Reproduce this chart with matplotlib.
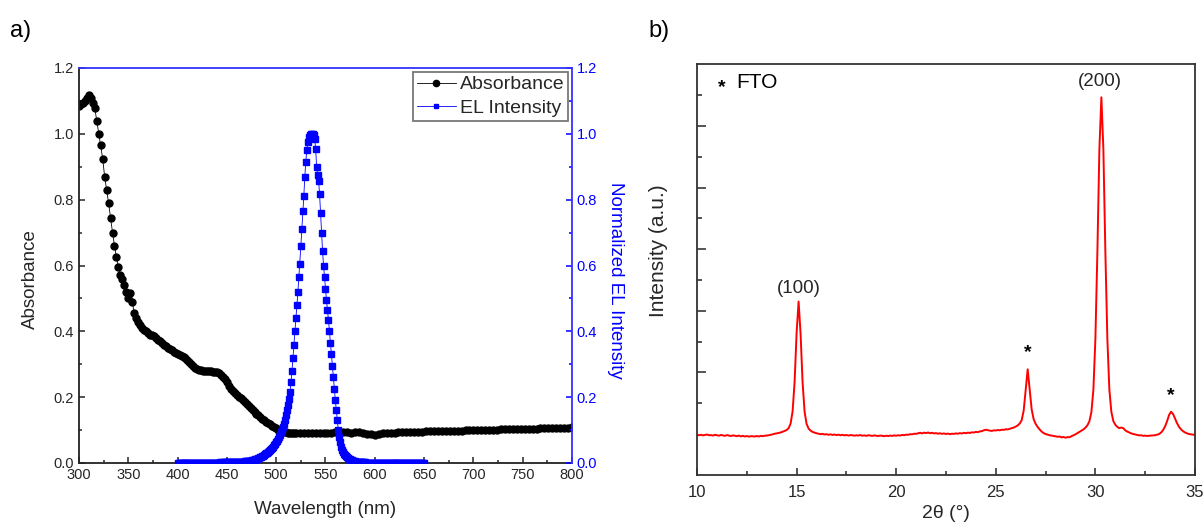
import numpy as np
import matplotlib
matplotlib.use("Agg")
import matplotlib.pyplot as plt
from matplotlib.ticker import MultipleLocator, FixedLocator, FormatStrFormatter, NullFormatter

plt.rcParams['font.family'] = ['Liberation Sans', 'DejaVu Sans']

# ---------------- Panel a) data ----------------
abs_wl_fine = np.arange(300, 521, 2)        # 300..520 step 2
abs_fine = [
    1.085, 1.090, 1.095, 1.100, 1.110, 1.118, 1.110, 1.095, 1.078, 1.040,
    1.000, 0.965, 0.925, 0.870, 0.830, 0.790, 0.745, 0.700, 0.660, 0.625,
    0.595, 0.570, 0.560, 0.540, 0.520, 0.500, 0.515, 0.490, 0.455, 0.440,
    0.427, 0.420, 0.410, 0.405, 0.400, 0.395, 0.390, 0.388, 0.385, 0.380,
    0.375, 0.370, 0.365, 0.360, 0.355, 0.350, 0.345, 0.342, 0.338, 0.335,
    0.332, 0.329, 0.326, 0.322, 0.318, 0.314, 0.308, 0.300, 0.295, 0.290,
    0.285, 0.283, 0.282, 0.281, 0.281, 0.280, 0.279, 0.278, 0.277, 0.276,
    0.275, 0.272, 0.268, 0.262, 0.254, 0.245, 0.235, 0.226, 0.220, 0.213,
    0.207, 0.202, 0.197, 0.192, 0.186, 0.180, 0.174, 0.168, 0.162, 0.156,
    0.150, 0.145, 0.140, 0.135, 0.130, 0.125, 0.121, 0.117, 0.113, 0.109,
    0.105, 0.101, 0.098, 0.096, 0.094, 0.093, 0.092, 0.092, 0.092, 0.092,
    0.092,
]
abs_wl_coarse = np.arange(524, 801, 4)      # 524..800 step 4
abs_coarse = [
    0.092, 0.091, 0.092, 0.091, 0.092, 0.092, 0.091, 0.092, 0.092, 0.093,
    0.092, 0.093, 0.093, 0.092, 0.093, 0.094, 0.092, 0.089, 0.087, 0.086,
    0.088, 0.090, 0.091, 0.092, 0.092, 0.093, 0.093, 0.094, 0.094, 0.094,
    0.095, 0.095, 0.096, 0.096, 0.096, 0.096, 0.097, 0.097, 0.097, 0.098,
    0.098, 0.098, 0.099, 0.099, 0.099, 0.100, 0.100, 0.100, 0.101, 0.101,
    0.101, 0.102, 0.102, 0.102, 0.102, 0.103, 0.103, 0.103, 0.104, 0.104,
    0.104, 0.105, 0.105, 0.105, 0.106, 0.106, 0.106, 0.107, 0.107, 0.108,
]

el_wl = np.arange(400, 651, 1)              # 400..650 step 1
el_int = [
    # 400-459
    0.001, 0.001, 0.000, 0.001, 0.000, 0.001, 0.001, 0.000, 0.001, 0.000,
    0.001, 0.000, 0.001, 0.001, 0.000, 0.001, 0.000, 0.001, 0.001, 0.000,
    0.001, 0.001, 0.000, 0.001, 0.001, 0.001, 0.000, 0.001, 0.001, 0.001,
    0.001, 0.001, 0.001, 0.001, 0.001, 0.001, 0.001, 0.001, 0.001, 0.001,
    0.001, 0.001, 0.001, 0.002, 0.001, 0.002, 0.001, 0.002, 0.002, 0.002,
    0.002, 0.002, 0.002, 0.002, 0.002, 0.002, 0.002, 0.002, 0.002, 0.002,
    # 460-469
    0.002, 0.002, 0.002, 0.003, 0.003, 0.003, 0.004, 0.004, 0.005, 0.005,
    # 470-479
    0.005, 0.006, 0.006, 0.007, 0.007, 0.008, 0.009, 0.009, 0.010, 0.011,
    # 480-489
    0.012, 0.013, 0.014, 0.015, 0.017, 0.019, 0.020, 0.022, 0.024, 0.026,
    # 490-499
    0.029, 0.031, 0.034, 0.037, 0.040, 0.043, 0.046, 0.050, 0.054, 0.058,
    # 500-509
    0.063, 0.068, 0.074, 0.080, 0.086, 0.093, 0.100, 0.110, 0.120, 0.132,
    # 510-519
    0.145, 0.160, 0.176, 0.194, 0.215, 0.245, 0.280, 0.320, 0.360, 0.400,
    # 520-529
    0.440, 0.480, 0.520, 0.565, 0.605, 0.660, 0.710, 0.765, 0.810, 0.870,
    # 530-539
    0.915, 0.950, 0.975, 0.990, 0.995, 1.000, 1.000, 1.000, 0.995, 0.985,
    # 540-549
    0.955, 0.900, 0.875, 0.857, 0.816, 0.760, 0.700, 0.645, 0.600, 0.565,
    # 550-559
    0.530, 0.495, 0.465, 0.435, 0.400, 0.365, 0.330, 0.295, 0.260, 0.225,
    # 560-569
    0.190, 0.160, 0.130, 0.100, 0.080, 0.064, 0.050, 0.041, 0.034, 0.028,
    # 570-579
    0.023, 0.020, 0.017, 0.015, 0.013, 0.011, 0.010, 0.008, 0.007, 0.006,
    # 580-589
    0.005, 0.004, 0.004, 0.003, 0.003, 0.003, 0.002, 0.002, 0.002, 0.002,
    # 590-599
    0.002, 0.001, 0.001, 0.001, 0.001, 0.001, 0.001, 0.001, 0.001, 0.001,
    # 600-650
    0.001, 0.001, 0.000, 0.001, 0.001, 0.000, 0.001, 0.001, 0.001, 0.000,
    0.001, 0.001, 0.000, 0.001, 0.000, 0.001, 0.001, 0.000, 0.001, 0.001,
    0.000, 0.001, 0.001, 0.000, 0.001, 0.000, 0.001, 0.001, 0.000, 0.001,
    0.001, 0.000, 0.001, 0.001, 0.000, 0.001, 0.000, 0.001, 0.001, 0.000,
    0.001, 0.001, 0.000, 0.001, 0.000, 0.001, 0.001, 0.000, 0.001, 0.001,
    0.000,
]

# ---------------- Panel b) data ----------------
xrd_2theta = np.round(np.arange(10.0, 35.01, 0.1), 1)
xrd_int = [
    3980, 3960, 3975, 3955, 3970, 3985, 3960, 3965, 3950, 3975,   # 10
    3960, 3945, 3970, 3955, 3940, 3965, 3950, 3935, 3955, 3945,   # 11
    3930, 3950, 3925, 3940, 3920, 3935, 3915, 3930, 3925, 3920,   # 12
    3935, 3920, 3940, 3930, 3945, 3950, 3960, 3975, 3990, 4010,   # 13
    4020, 4035, 4050, 4075, 4100, 4130, 4190, 4340, 4740, 5700,   # 14
    7280, 8300, 7250, 5680, 4730, 4330, 4180, 4110, 4070, 4045,   # 15
    4025, 4010, 3995, 4005, 3985, 3995, 3975, 3990, 3970, 3985,   # 16
    3965, 3980, 3960, 3975, 3955, 3970, 3950, 3965, 3960, 3945,   # 17
    3960, 3950, 3965, 3945, 3955, 3940, 3960, 3950, 3940, 3955,   # 18
    3945, 3935, 3950, 3940, 3930, 3945, 3935, 3950, 3940, 3955,   # 19
    3945, 3960, 3950, 3970, 3960, 3980, 3975, 3995, 3990, 4010,   # 20
    4005, 4025, 4040, 4020, 4045, 4030, 4050, 4025, 4040, 4020,   # 21
    4030, 4010, 4025, 4005, 4020, 4000, 4015, 3995, 4010, 4005,   # 22
    4020, 4010, 4030, 4015, 4040, 4025, 4045, 4035, 4055, 4050,   # 23
    4070, 4060, 4085, 4095, 4120, 4140, 4125, 4110, 4100, 4120,   # 24
    4115, 4130, 4120, 4140, 4135, 4155, 4150, 4170, 4190, 4210,   # 25
    4240, 4280, 4340, 4450, 4760, 5420, 6100, 5460, 4800, 4480,   # 26
    4330, 4230, 4150, 4080, 4030, 4000, 3980, 3960, 3950, 3935,   # 27
    3925, 3910, 3920, 3890, 3905, 3880, 3900, 3895, 3930, 3960,   # 28
    3990, 4030, 4070, 4110, 4150, 4205, 4285, 4415, 4715, 5450,   # 29
    7100, 9920, 13250, 14930, 13250, 9920, 7100, 5450, 4720, 4420,  # 30
    4300, 4230, 4190, 4210, 4190, 4120, 4080, 4050, 4020, 4000,   # 31
    3985, 3970, 3955, 3960, 3940, 3950, 3935, 3945, 3950, 3955,   # 32
    3960, 3980, 4000, 4050, 4130, 4250, 4420, 4620, 4725, 4650,   # 33
    4500, 4350, 4230, 4150, 4090, 4050, 4020, 4000, 3990, 3980,   # 34
    3970,                                                         # 35
]
xrd_peak_labels = ["(100)", "(200)"]
xrd_peak_pos = [15.1, 30.3]
fto_peak_pos = [26.6, 33.8]

# ---------------- Figure ----------------
fig = plt.figure(figsize=(12.04, 5.24), dpi=100)
txt = '#262626'
blue = '#0000FF'

ax1 = fig.add_axes([79/1204, 1-463/524, (572-79)/1204, (463-68)/524])
ax1.plot(np.concatenate([abs_wl_fine, abs_wl_coarse]), abs_fine + abs_coarse,
         color='black', lw=0.6, marker='o', ms=5, mec='black', mfc='black',
         label='Absorbance')
ax1.set_xlim(300, 800)
ax1.set_ylim(0, 1.2)
ax1.xaxis.set_major_locator(MultipleLocator(50))
ax1.xaxis.set_minor_locator(MultipleLocator(25))
ax1.yaxis.set_major_locator(MultipleLocator(0.2))
ax1.yaxis.set_minor_locator(MultipleLocator(0.1))
ax1.yaxis.set_major_formatter(FormatStrFormatter('%.1f'))
ax1.tick_params(which='both', direction='in', top=False, right=False,
                labelsize=10.5, colors=txt, width=1.1)
ax1.tick_params(which='major', length=4.5)
ax1.tick_params(which='minor', length=2.5)
ax1.set_xlabel('Wavelength (nm)', fontsize=13.5, color=txt, labelpad=14)
ax1.set_ylabel('Absorbance', fontsize=13.5, color=txt)
ax1.yaxis.set_label_coords(-0.082, 0.465)
for s in ['left', 'bottom']:
    ax1.spines[s].set_linewidth(1.3)
    ax1.spines[s].set_color('#222222')
ax1.spines['top'].set_visible(False)
ax1.spines['right'].set_visible(False)

ax2 = ax1.twinx()
ax2.plot(el_wl, el_int, color=blue, lw=0.6, marker='s', ms=3.8, mec=blue,
         mfc=blue, label='EL Intensity')
ax2.set_ylim(0, 1.2)
ax2.yaxis.set_major_locator(MultipleLocator(0.2))
ax2.yaxis.set_minor_locator(MultipleLocator(0.1))
ax2.yaxis.set_major_formatter(FormatStrFormatter('%.1f'))
ax2.tick_params(which='both', direction='in', labelsize=10.5, colors=blue,
                width=1.1)
ax2.tick_params(which='major', length=4.5)
ax2.tick_params(which='minor', length=2.5)
ax2.set_ylabel('Normalized EL Intensity', fontsize=13.5, color=blue,
               rotation=270, labelpad=18)
ax2.yaxis.set_label_coords(1.105, 0.463)
ax2.spines['left'].set_visible(False)
ax2.spines['bottom'].set_visible(False)
for s in ['top', 'right']:
    ax2.spines[s].set_color('#3333FF')
    ax2.spines[s].set_linewidth(1.3)

h1, l1 = ax1.get_legend_handles_labels()
h2, l2 = ax2.get_legend_handles_labels()
leg = ax2.legend(h1 + h2, l1 + l2, loc='upper right', fontsize=14,
                 frameon=True, fancybox=False, edgecolor='#777777',
                 framealpha=1, borderpad=0.2, labelspacing=0.3,
                 handlelength=2.0, handletextpad=0.2, borderaxespad=0.2,
                 markerscale=0.9)
leg.get_frame().set_linewidth(1.3)
for t in leg.get_texts():
    t.set_color(txt)

# Panel b
ax3 = fig.add_axes([697/1204, 1-475/524, (1195-697)/1204, (475-64)/524])
ax3.plot(xrd_2theta, xrd_int, color='#FF0000', lw=1.4)
ax3.set_xlim(10, 35)
ax3.set_ylim(2670, 16010)
ax3.xaxis.set_major_locator(MultipleLocator(5))
ax3.xaxis.set_minor_locator(MultipleLocator(2.5))
ax3.yaxis.set_major_locator(FixedLocator([6000, 8000, 10000, 12000, 14000]))
ax3.yaxis.set_minor_locator(FixedLocator([5000, 7000, 9000, 11000, 13000, 15000]))
ax3.yaxis.set_major_formatter(NullFormatter())
ax3.tick_params(which='both', direction='in', top=False, right=False,
                colors=txt, width=1.1)
ax3.tick_params(axis='x', labelsize=12, pad=7)
ax3.tick_params(axis='y', which='major', length=6.5)
ax3.tick_params(axis='y', which='minor', length=3.5)
ax3.tick_params(axis='x', which='major', length=5)
ax3.tick_params(axis='x', which='minor', length=3)
for s in ax3.spines.values():
    s.set_linewidth(1.3)
    s.set_color('#333333')
ax3.set_xlabel('2θ (°)', fontsize=14, color=txt, labelpad=4)
ax3.set_ylabel('Intensity (a.u.)', fontsize=15, color=txt)
ax3.yaxis.set_label_coords(-0.058, 0.545)

ax3.text(xrd_peak_pos[0], 8450, xrd_peak_labels[0], ha='center', va='bottom',
         fontsize=13.5, color=txt)
ax3.text(xrd_peak_pos[1] - 0.1, 15150, xrd_peak_labels[1], ha='center',
         va='bottom', fontsize=13.5, color=txt)
ax3.text(fto_peak_pos[0], 6650, '*', ha='center', va='center', fontsize=14,
         fontweight='bold', color='black')
ax3.text(fto_peak_pos[1], 5250, '*', ha='center', va='center', fontsize=14,
         fontweight='bold', color='black')
ax3.text(11.25, 15250, '*', ha='center', va='center', fontsize=14,
         fontweight='bold', color='black')
ax3.text(11.95, 15400, 'FTO', ha='left', va='center', fontsize=15, color='black')

fig.text(10/1204, 1-31/524, 'a)', fontsize=17, color='black', va='center')
fig.text(648/1204, 1-31/524, 'b)', fontsize=17, color='black', va='center')

fig.savefig('out.png', dpi=100)
